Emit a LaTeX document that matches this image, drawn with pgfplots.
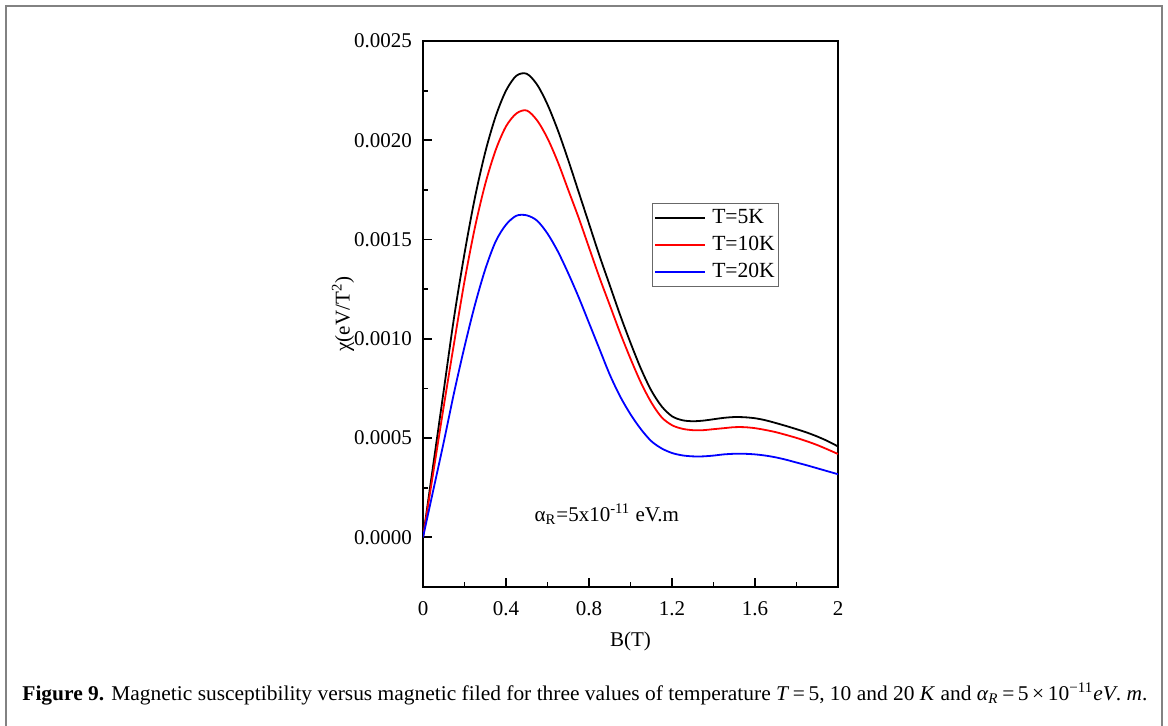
\documentclass[border=0pt]{standalone}
\usepackage{fontspec}
\setmainfont{Liberation Serif}
\usepackage{graphicx}
\usepackage{pgfplots}
\pgfplotsset{compat=1.18}
\definecolor{framegray}{RGB}{130,130,130}

\begin{document}
\begin{tikzpicture}
\path[use as bounding box] (0,0) rectangle (584pt,-362.5pt);
% outer frame
\draw[framegray,line width=1.2pt] (3pt,-363pt) -- (3pt,-3pt) -- (581pt,-3pt) -- (581pt,-363pt);

\begin{axis}[
  at={(211.5pt,-293.5pt)}, anchor=south west,
  scale only axis, width=207.5pt, height=273pt,
  xmin=0, xmax=2, ymin=-0.00025, ymax=0.0025,
  xtick={0,0.4,0.8,1.2,1.6,2},
  minor xtick={0.2,0.6,1.0,1.4,1.8},
  ytick={0,0.0005,0.0010,0.0015,0.0020,0.0025},
  minor ytick={0.00025,0.00075,0.00125,0.00175,0.00225},
  scaled y ticks=false,
  yticklabel style={/pgf/number format/fixed,/pgf/number format/fixed zerofill,
    /pgf/number format/precision=4,xshift=-2pt},
  /pgf/number format/assume math mode=true,
  tick align=inside, xtick pos=bottom, ytick pos=left,
  major tick length=4.3pt, minor tick length=2.5pt,
  every tick/.style={black,line width=0.9pt},
  axis line style={line width=1.1pt},
  tick label style={font=\fontsize{10.5}{12}\selectfont},
  xticklabel style={yshift=-3.6pt},
  xlabel={B(T)},
  ylabel={χ(eV/T\textsuperscript{2})},
  label style={font=\fontsize{10.5}{12}\selectfont},
  xlabel style={at={(axis description cs:0.5,-0.099)},anchor=center},
  ylabel style={at={(axis description cs:-0.193,0.5)},anchor=center},
  legend style={at={(0.551,0.703)},anchor=north west,
    draw=framegray!80!black,line width=0.6pt,inner xsep=1pt,inner ysep=1.4pt,
    font=\fontsize{10.8}{12}\selectfont,row sep=2pt,
    nodes={inner sep=1pt,text height=7.5pt,text depth=2pt}},
  legend cell align=left,
  legend image code/.code={\draw[#1,line width=1pt] (0pt,0pt) -- (25pt,0pt);},
  clip=true
]
\addplot[black,line width=0.9pt,smooth] coordinates{
 (0,0)(0.05,0.00037)(0.10,0.00074)(0.15,0.00111)(0.20,0.00143)(0.25,0.00171)
 (0.30,0.00194)(0.35,0.00212)(0.40,0.00225)(0.45,0.002325)(0.50,0.002335)
 (0.55,0.00228)(0.60,0.00218)(0.65,0.00205)(0.70,0.00190)
 (0.75,0.00174)(0.80,0.00158)(0.85,0.00142)(0.90,0.00127)(0.95,0.00112)
 (1.00,0.00098)(1.05,0.00085)(1.10,0.00074)(1.15,0.00066)(1.20,0.00061)
 (1.25,0.00059)(1.30,0.000585)(1.35,0.000588)(1.40,0.000595)(1.45,0.000602)
 (1.50,0.000606)(1.55,0.000605)(1.60,0.000600)(1.65,0.000590)(1.70,0.000576)
 (1.75,0.000561)(1.80,0.000545)(1.85,0.000528)(1.90,0.000508)(1.95,0.000485)
 (2.00,0.000458)};
\addlegendentry{\hspace{2pt}T=5K}
\addplot[red,line width=0.9pt,smooth] coordinates{
 (0,0)(0.05,0.00033)(0.10,0.00066)(0.15,0.00098)(0.20,0.00129)(0.25,0.00156)
 (0.30,0.00178)(0.35,0.00195)(0.40,0.00207)(0.45,0.002135)(0.50,0.00215)
 (0.55,0.00210)(0.60,0.00201)(0.65,0.00189)(0.70,0.00175)
 (0.75,0.00161)(0.80,0.00146)(0.85,0.00131)(0.90,0.00117)(0.95,0.00103)
 (1.00,0.00090)(1.05,0.00078)(1.10,0.00068)(1.15,0.000605)(1.20,0.000565)
 (1.25,0.000547)(1.30,0.000540)(1.35,0.000540)(1.40,0.000545)(1.45,0.000550)
 (1.50,0.000555)(1.55,0.000555)(1.60,0.000550)(1.65,0.000541)(1.70,0.000530)
 (1.75,0.000516)(1.80,0.000501)(1.85,0.000484)(1.90,0.000465)(1.95,0.000443)
 (2.00,0.000420)};
\addlegendentry{\hspace{2pt}T=10K}
\addplot[blue,line width=0.9pt,smooth] coordinates{
 (0,0)(0.05,0.00024)(0.10,0.00048)(0.15,0.00073)(0.20,0.00096)(0.25,0.00117)
 (0.30,0.00135)(0.35,0.00149)(0.40,0.001575)(0.45,0.00162)(0.50,0.001622)
 (0.55,0.001595)(0.60,0.00153)(0.65,0.00144)(0.70,0.00133)
 (0.75,0.00121)(0.80,0.00108)(0.85,0.00095)(0.90,0.00082)(0.95,0.00071)
 (1.00,0.00062)(1.05,0.000545)(1.10,0.000485)(1.15,0.000448)(1.20,0.000425)
 (1.25,0.000413)(1.30,0.000408)(1.35,0.000408)(1.40,0.000412)(1.45,0.000418)
 (1.50,0.000421)(1.55,0.000421)(1.60,0.000418)(1.65,0.000412)(1.70,0.000403)
 (1.75,0.000391)(1.80,0.000377)(1.85,0.000363)(1.90,0.000348)(1.95,0.000333)
 (2.00,0.000318)};
\addlegendentry{\hspace{2pt}T=20K}
\node[anchor=base west,inner sep=0pt,font=\fontsize{10.5}{12}\selectfont]
  at (axis cs:0.536,0.000082)
  {α\textsubscript{R}=5x10\textsuperscript{-11} eV.m};
\end{axis}

\node[anchor=base west,inner sep=0pt,font=\fontsize{10.5}{12}\selectfont] at (11pt,-350pt)
 {\resizebox{562.5pt}{\height}{\textbf{Figure 9.} Magnetic susceptibility versus magnetic filed for three values of temperature \textit{T}\,=\,5, 10 and 20 \textit{K} and \textit{α}\textsubscript{\textit{R}}\,=\,5\,×\,10\textsuperscript{−11}\textit{eV}. \textit{m}.}};
\end{tikzpicture}
\end{document}
